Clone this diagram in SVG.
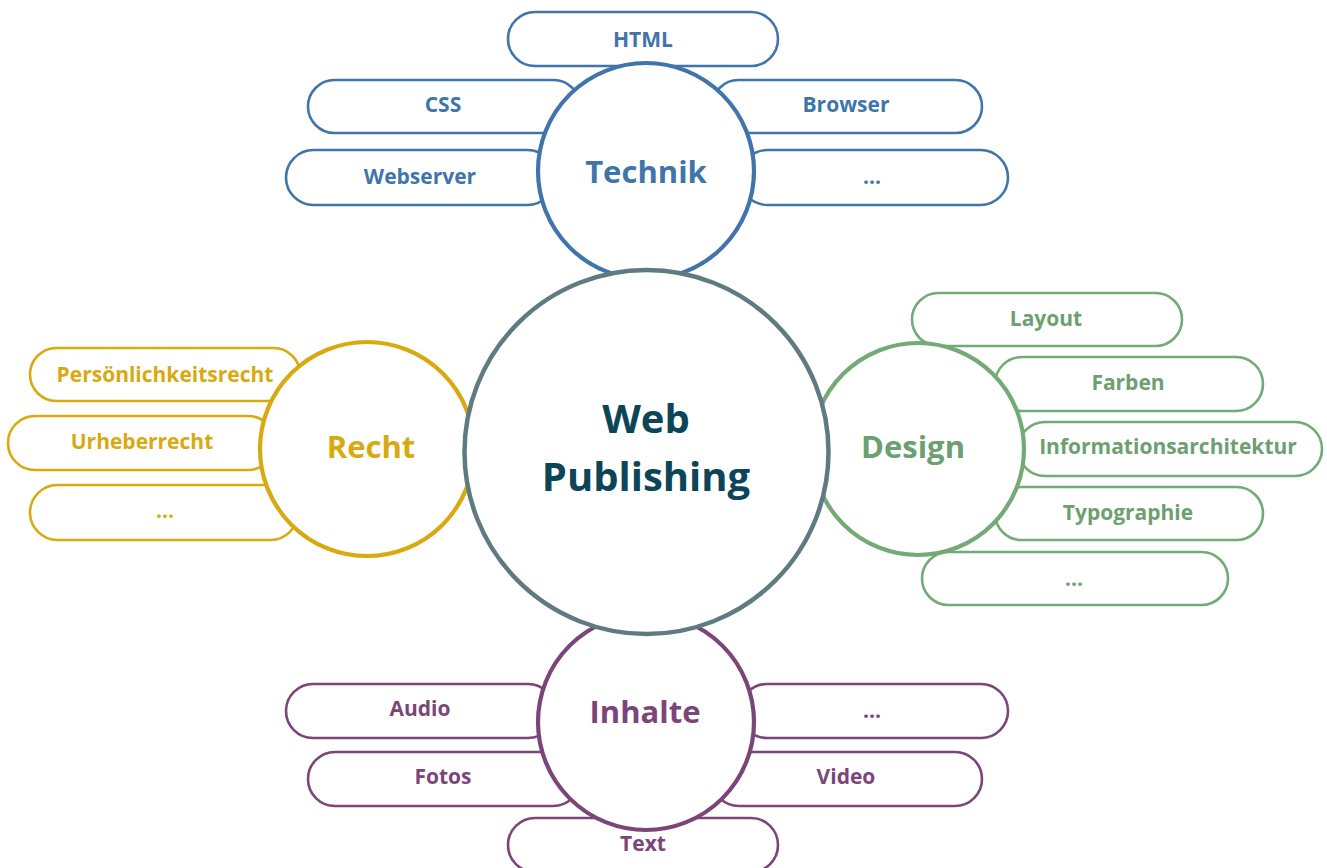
<svg xmlns="http://www.w3.org/2000/svg" width="1327" height="868" viewBox="0 0 1327 868">
<style>
text{font-family:"Open Sans","Noto Sans","Liberation Sans",sans-serif;font-weight:700;text-anchor:middle}
.pill{fill:#fff;stroke-width:2.6}
.ring{fill:#fff;stroke-width:4.2}
.lbl{font-size:21px}
.big{font-size:31px}
.blue{stroke:#3f75aa}.tblue{fill:#3f75aa}
.gold{stroke:#d8aa10}.tgold{fill:#d8aa10}
.green{stroke:#74aa76}.tgreen{fill:#6da070}
.purple{stroke:#7c4579}.tpurple{fill:#7c4579}
</style>
<rect width="1327" height="868" fill="#fff"/>
<g id="connectors"/>
<g id="technik-items">
<g id="html"><rect class="pill blue" x="508" y="12" width="270" height="54" rx="27"/><text class="lbl tblue" x="643" y="47">HTML</text></g>
<g id="css"><rect class="pill blue" x="308" y="80" width="272" height="53" rx="26.5"/><text class="lbl tblue" x="443" y="112">CSS</text></g>
<g id="browser"><rect class="pill blue" x="712" y="80" width="270" height="53" rx="26.5"/><text class="lbl tblue" x="846" y="112">Browser</text></g>
<g id="webserver"><rect class="pill blue" x="286" y="150" width="269" height="55" rx="27.5"/><text class="lbl tblue" x="420" y="184">Webserver</text></g>
<g id="technik-more"><rect class="pill blue" x="740" y="150" width="268" height="55" rx="27.5"/><text class="lbl tblue" x="872" y="184">...</text></g>
</g>
<g id="recht-items">
<g id="persoenlichkeitsrecht"><rect class="pill gold" x="30" y="348" width="270" height="53" rx="26.5"/><text class="lbl tgold" x="165" y="382">Persönlichkeitsrecht</text></g>
<g id="urheberrecht"><rect class="pill gold" x="8" y="416" width="267" height="54" rx="27"/><text class="lbl tgold" x="142" y="449">Urheberrecht</text></g>
<g id="recht-more"><rect class="pill gold" x="30" y="485" width="268" height="55" rx="27.5"/><text class="lbl tgold" x="165" y="518">...</text></g>
</g>
<g id="design-items">
<g id="layout"><rect class="pill green" x="912" y="293" width="270" height="53" rx="26.5"/><text class="lbl tgreen" x="1046" y="326">Layout</text></g>
<g id="farben"><rect class="pill green" x="995" y="357" width="268" height="54" rx="27"/><text class="lbl tgreen" x="1128" y="390">Farben</text></g>
<g id="informationsarchitektur"><rect class="pill green" x="1018" y="422" width="304" height="54" rx="27"/><text class="lbl tgreen" x="1168" y="454">Informationsarchitektur</text></g>
<g id="typographie"><rect class="pill green" x="995" y="487" width="268" height="53" rx="26.5"/><text class="lbl tgreen" x="1128" y="520">Typographie</text></g>
<g id="design-more"><rect class="pill green" x="922" y="552" width="306" height="53" rx="26.5"/><text class="lbl tgreen" x="1074" y="586">...</text></g>
</g>
<g id="inhalte-items">
<g id="audio"><rect class="pill purple" x="286" y="684" width="269" height="54" rx="27"/><text class="lbl tpurple" x="420" y="716">Audio</text></g>
<g id="inhalte-more"><rect class="pill purple" x="740" y="684" width="268" height="54" rx="27"/><text class="lbl tpurple" x="872" y="718">...</text></g>
<g id="fotos"><rect class="pill purple" x="308" y="752" width="272" height="54" rx="27"/><text class="lbl tpurple" x="443" y="784">Fotos</text></g>
<g id="video"><rect class="pill purple" x="712" y="752" width="270" height="54" rx="27"/><text class="lbl tpurple" x="846" y="784">Video</text></g>
<g id="text"><rect class="pill purple" x="508" y="818" width="270" height="54" rx="27"/><text class="lbl tpurple" x="643" y="851">Text</text></g>
</g>
<g id="technik"><circle class="ring blue" cx="646" cy="171" r="108"/><text class="big tblue" x="646" y="183">Technik</text></g>
<g id="recht"><circle class="ring gold" cx="367" cy="449" r="107"/><text class="big tgold" x="371" y="458">Recht</text></g>
<g id="design"><circle class="ring green" cx="918" cy="449" r="106"/><text class="big tgreen" x="913" y="458">Design</text></g>
<g id="inhalte"><circle class="ring purple" cx="646" cy="722" r="108"/><text class="big tpurple" x="645" y="723">Inhalte</text></g>
<g id="web-publishing"><circle cx="646.5" cy="452" r="182" fill="#fff" stroke="#5f7a81" stroke-width="4.5"/><text x="646" y="433" font-size="40" fill="#0c4558">Web</text><text x="646" y="491" font-size="40" fill="#0c4558">Publishing</text></g>
</svg>
